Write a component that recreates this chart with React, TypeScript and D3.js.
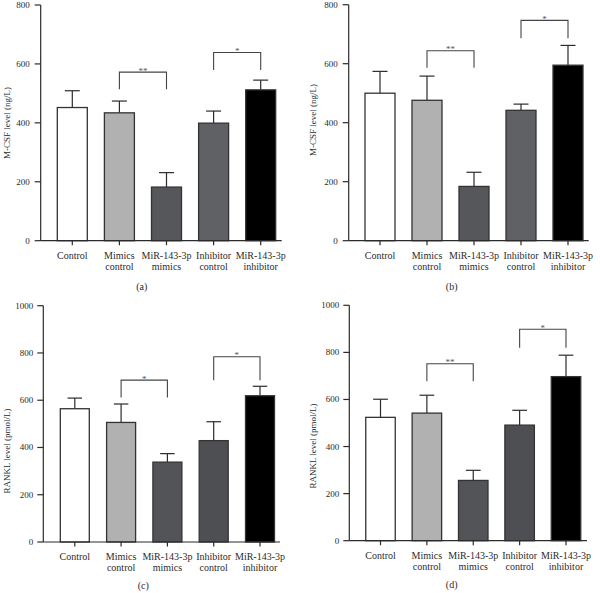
import React from "react";
import * as d3 from "d3";

// ---- data ----
const categories = ["Control", "Mimics control", "MiR-143-3p mimics", "Inhibitor control", "MiR-143-3p inhibitor"];
const categoryLines = [["Control"], ["Mimics", "control"], ["MiR-143-3p", "mimics"], ["Inhibitor", "control"], ["MiR-143-3p", "inhibitor"]];

const mcsfA = [452, 434, 182, 399, 512];
const mcsfAErr = [57, 40, 49, 41, 33];
const mcsfB = [500, 476, 184, 442, 595];
const mcsfBErr = [74, 82, 48, 21, 67];
const ranklC = [564, 506, 338, 429, 619];
const ranklCErr = [45, 78, 36, 80, 40];
const ranklD = [524, 542, 256, 491, 697];
const ranklDErr = [77, 76, 43, 63, 91];

const mcsfTicks = [0, 200, 400, 600, 800];
const ranklTicks = [0, 200, 400, 600, 800, 1000];

// brackets: [fromIndex, toIndex, topValue, legValue, label]
const bracketsA: [number, number, number, number, string][] = [[1, 2, 572, 514, "**"], [3, 4, 639, 579, "*"]];
const bracketsB: [number, number, number, number, string][] = [[1, 2, 644, 586, "**"], [3, 4, 747, 686, "*"]];
const bracketsC: [number, number, number, number, string][] = [[1, 2, 685, 611, "*"], [3, 4, 784, 685, "*"]];
const bracketsD: [number, number, number, number, string][] = [[1, 2, 752, 677, "**"], [3, 4, 898, 820, "*"]];

const fillsAB = ["#ffffff", "#b1b1b2", "#56575b", "#606165", "#000000"];
const fillsCD = ["#ffffff", "#b1b1b2", "#535458", "#4e4f52", "#000000"];

const FONT = "'Liberation Serif', 'Times New Roman', serif";
const INK = "#2b2b2b";

interface PanelProps {
  values: number[];
  errors: number[];
  ticks: number[];
  brackets: [number, number, number, number, string][];
  fills: string[];
  yLabel: string;
  tag: string;
  axisX: number;
  axisEnd: number;
  firstCenter: number;
  lastCenter: number;
  y0: number;
  yTop: number;
  barW: number;
  yLabelX: number;
  yLabelY: number;
  tickLabelGap: number;
  xLab1: number;
  xLab2: number;
  tagX: number;
  tagY: number;
}

function Panel(p: PanelProps) {
  const yMax = p.ticks[p.ticks.length - 1];
  const y = d3.scaleLinear().domain([0, yMax]).range([p.y0, p.yTop]);
  const x = d3.scalePoint<string>().domain(categories).range([p.firstCenter, p.lastCenter]);
  const capW = p.barW / 2;
  return (
    <g>
      {/* bars */}
      {categories.map((c, i) => {
        const cx = x(c)!;
        const top = y(p.values[i]);
        const et = y(p.values[i] + p.errors[i]);
        return (
          <g key={c}>
            <line x1={cx} x2={cx} y1={top} y2={et} stroke={INK} strokeWidth={1.2} />
            <line x1={cx - capW / 2} x2={cx + capW / 2} y1={et} y2={et} stroke={INK} strokeWidth={1.2} />
            <rect x={cx - p.barW / 2} y={top} width={p.barW} height={p.y0 - top} fill={p.fills[i]} stroke="#333" strokeWidth={1.3} />
          </g>
        );
      })}
      {/* y axis */}
      <line x1={p.axisX} x2={p.axisX} y1={p.yTop} y2={p.y0} stroke={INK} strokeWidth={1.2} />
      {p.ticks.map((t) => (
        <g key={t}>
          <line x1={p.axisX - 6} x2={p.axisX} y1={y(t)} y2={y(t)} stroke={INK} strokeWidth={1.2} />
          <text x={p.axisX - p.tickLabelGap} y={y(t) + 3} textAnchor="end" fontSize={9} fontFamily={FONT} fill={INK}>{t}</text>
        </g>
      ))}
      {/* x axis */}
      <line x1={p.axisX} x2={p.axisEnd} y1={p.y0} y2={p.y0} stroke={INK} strokeWidth={1.2} />
      {categories.map((c, i) => (
        <g key={"xl" + c}>
          <line x1={x(c)!} x2={x(c)!} y1={p.y0} y2={p.y0 + 4.5} stroke={INK} strokeWidth={1.2} />
          {categoryLines[i].map((ln, k) => (
            <text key={k} x={x(c)!} y={k === 0 ? p.xLab1 : p.xLab2} textAnchor="middle" fontSize={10} fontFamily={FONT} fill={INK}>{ln}</text>
          ))}
        </g>
      ))}
      {/* brackets */}
      {p.brackets.map(([a, b, tv, lv, lab], i) => {
        const xa = x(categories[a])!;
        const xb = x(categories[b])!;
        const yt = y(tv);
        const yl = y(lv);
        return (
          <g key={"br" + i}>
            <path d={`M${xa},${yl}V${yt}H${xb}V${yl}`} fill="none" stroke="#444" strokeWidth={1.1} />
            <text x={(xa + xb) / 2} y={yt + 1.5} textAnchor="middle" fontSize={9} fontFamily={FONT} fill="#555">{lab}</text>
          </g>
        );
      })}
      {/* y label */}
      <text transform={`translate(${p.yLabelX},${p.yLabelY}) rotate(-90)`} textAnchor="middle" dominantBaseline="central" fontSize={9} fontFamily={FONT} fill={INK}>{p.yLabel}</text>
      <text x={p.tagX} y={p.tagY} textAnchor="middle" fontSize={10} fontFamily={FONT} fill={INK}>{p.tag}</text>
    </g>
  );
}

export default function App() {
  return (
    <svg width={600} height={593} viewBox="0 0 600 593" style={{ position: "absolute", left: 0, top: 0, background: "#fff" }}>
      <rect width={600} height={593} fill="#fff" />
      <Panel values={mcsfA} errors={mcsfAErr} ticks={mcsfTicks} brackets={bracketsA} fills={fillsAB}
        yLabel="M-CSF level (ng/L)" tag="(a)" axisX={40.7} axisEnd={281.7} firstCenter={72.3} lastCenter={260.7}
        y0={240.7} yTop={5} barW={30} yLabelX={6.5} yLabelY={123} tickLabelGap={11} xLab1={258.5} xLab2={270} tagX={141.7} tagY={289.5} />
      <Panel values={mcsfB} errors={mcsfBErr} ticks={mcsfTicks} brackets={bracketsB} fills={fillsAB}
        yLabel="M-CSF level (ng/L)" tag="(b)" axisX={348.7} axisEnd={588.7} firstCenter={380} lastCenter={568}
        y0={240.7} yTop={4.7} barW={30} yLabelX={312.7} yLabelY={120} tickLabelGap={11} xLab1={258.5} xLab2={270} tagX={451.7} tagY={289.5} />
      <Panel values={ranklC} errors={ranklCErr} ticks={ranklTicks} brackets={bracketsC} fills={fillsCD}
        yLabel="RANKL level (pmol/L)" tag="(c)" axisX={43.3} axisEnd={280} firstCenter={74.8} lastCenter={260}
        y0={542} yTop={305.7} barW={29} yLabelX={6.5} yLabelY={451} tickLabelGap={10} xLab1={559.5} xLab2={571} tagX={143.3} tagY={589} />
      <Panel values={ranklD} errors={ranklDErr} ticks={ranklTicks} brackets={bracketsD} fills={fillsCD}
        yLabel="RANKL level (pmol/L)" tag="(d)" axisX={349.3} axisEnd={587} firstCenter={380.5} lastCenter={566}
        y0={540.7} yTop={305.3} barW={29.5} yLabelX={312.7} yLabelY={446} tickLabelGap={10} xLab1={558.5} xLab2={570} tagX={451.7} tagY={587.5} />
    </svg>
  );
}
